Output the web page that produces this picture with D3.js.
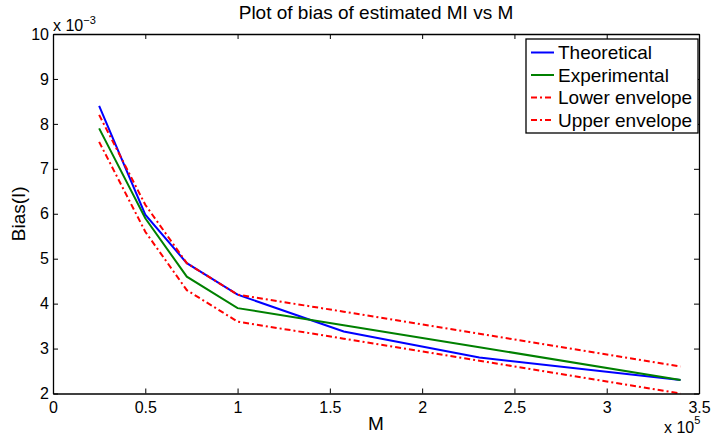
<!DOCTYPE html>
<html>
<head>
<meta charset="utf-8">
<script src="https://cdn.jsdelivr.net/npm/d3@7"></script>
<style>
  body { margin: 0; background: #fff; }
  svg { display: block; font-family: "Liberation Sans", Arial, sans-serif; }
  .tick-text { font-size: 16px; fill: #000; }
  .axis-label { font-size: 19px; fill: #000; }
  .legend-text { font-size: 19px; fill: #000; }
</style>
</head>
<body>
<svg id="chart" width="711" height="435"></svg>
<script>
// ── DATA ────────────────────────────────────────────────────────────────
// M in units of 1e5, bias in units of 1e-3
const mValues = [0.25, 0.5, 0.725, 1.0, 1.575, 2.31, 3.4];
const theoretical = [8.4, 5.98, 4.9, 4.2, 3.38, 2.8, 2.3];
const experimental = [7.9, 5.9, 4.6, 3.9, 3.52, 3.03, 2.3];
const lowerEnvelope = [7.6, 5.6, 4.3, 3.6, 3.22, 2.73, 2.0];
const upperEnvelope = [8.2, 6.2, 4.9, 4.2, 3.82, 3.33, 2.6];
const xTicks = [0, 0.5, 1, 1.5, 2, 2.5, 3, 3.5];
const yTicks = [2, 3, 4, 5, 6, 7, 8, 9, 10];

const series = [
  { name: "Theoretical", values: theoretical, color: "#0000ff", dash: null },
  { name: "Experimental", values: experimental, color: "#008000", dash: null },
  { name: "Lower envelope", values: lowerEnvelope, color: "#ff0000", dash: "6 3 2 3" },
  { name: "Upper envelope", values: upperEnvelope, color: "#ff0000", dash: "6 3 2 3" },
];

// ── LAYOUT ──────────────────────────────────────────────────────────────
const svg = d3.select("#chart");
const margin = { top: 34, right: 12, bottom: 41.5, left: 53 };
const innerWidth = 711 - margin.left - margin.right;
const innerHeight = 435 - margin.top - margin.bottom;

const xScale = d3.scaleLinear().domain([0, 3.5]).range([0, innerWidth]);
const yScale = d3.scaleLinear().domain([2, 10]).range([innerHeight, 0]);

const group = svg.append("g")
  .attr("transform", `translate(${margin.left},${margin.top})`);

// data lines (drawn first so the box sits on top)
const lineGen = (vals) => d3.line()
  .x((d, i) => xScale(mValues[i]))
  .y((d) => yScale(d))(vals);

group.append("g").selectAll("path")
  .data(series)
  .join("path")
  .attr("d", (s) => lineGen(s.values))
  .attr("fill", "none")
  .attr("stroke", (s) => s.color)
  .attr("stroke-width", 2)
  .attr("stroke-dasharray", (s) => s.dash);

// axes: bottom/left with labels, top/right mirrored ticks only (inward)
const tickLen = 5;
group.append("g")
  .attr("transform", `translate(0,${innerHeight})`)
  .call(d3.axisBottom(xScale).tickValues(xTicks).tickSize(-tickLen).tickSizeOuter(0).tickPadding(8)
    .tickFormat(d3.format("")))
  .call((g) => g.selectAll("text").attr("class", "tick-text").attr("dy", "0.71em"));
group.append("g")
  .call(d3.axisLeft(yScale).tickValues(yTicks).tickSize(-tickLen).tickSizeOuter(0).tickPadding(4))
  .call((g) => g.selectAll("text").attr("class", "tick-text"));
group.append("g")
  .call(d3.axisTop(xScale).tickValues(xTicks).tickSize(-tickLen).tickSizeOuter(0))
  .call((g) => g.selectAll("text").remove());
group.append("g")
  .attr("transform", `translate(${innerWidth},0)`)
  .call(d3.axisRight(yScale).tickValues(yTicks).tickSize(-tickLen).tickSizeOuter(0))
  .call((g) => g.selectAll("text").remove());

group.selectAll(".domain").attr("stroke", "#000").attr("stroke-width", 1.3);
group.selectAll(".tick line").attr("stroke", "#000");
group.selectAll(".tick text").attr("fill", "#000")
  .style("font-family", "Liberation Sans, Arial, sans-serif");

// exponent labels
const expTop = group.append("text").attr("class", "tick-text").attr("x", 0).attr("y", -3);
expTop.append("tspan").text("x 10");
expTop.append("tspan").attr("dy", -7).attr("font-size", 11).text("\u22123");

const expBottom = group.append("text").attr("class", "tick-text")
  .attr("x", innerWidth - 35).attr("y", innerHeight + 39.5);
expBottom.append("tspan").text("x 10");
expBottom.append("tspan").attr("dy", -9).attr("font-size", 11).text("5");

// title and axis labels
svg.append("text")
  .attr("class", "axis-label")
  .attr("x", margin.left + innerWidth / 2)
  .attr("y", 19)
  .attr("text-anchor", "middle")
  .text("Plot of bias of estimated MI vs M");
svg.append("text")
  .attr("class", "axis-label")
  .attr("x", margin.left + innerWidth / 2)
  .attr("y", 430)
  .attr("text-anchor", "middle")
  .text("M");
svg.append("text")
  .attr("class", "axis-label")
  .attr("transform", "rotate(-90)")
  .attr("x", -(margin.top + innerHeight / 2))
  .attr("y", 25)
  .attr("text-anchor", "middle")
  .text("Bias(I)");

// legend
const legend = svg.append("g").attr("transform", "translate(526,39)");
legend.append("rect")
  .attr("width", 172).attr("height", 94)
  .attr("fill", "#fff").attr("stroke", "#000").attr("stroke-width", 1.3);
const rows = legend.selectAll("g.row")
  .data(series)
  .join("g")
  .attr("class", "row")
  .attr("transform", (d, i) => `translate(0,${13.5 + i * 22.5})`);
rows.append("line")
  .attr("x1", 5).attr("x2", 28)
  .attr("stroke", (s) => s.color)
  .attr("stroke-width", 2)
  .attr("stroke-dasharray", (s) => s.dash);
rows.append("text")
  .attr("class", "legend-text")
  .attr("x", 32)
  .attr("y", 6.5)
  .text((s) => s.name);
</script>
</body>
</html>
